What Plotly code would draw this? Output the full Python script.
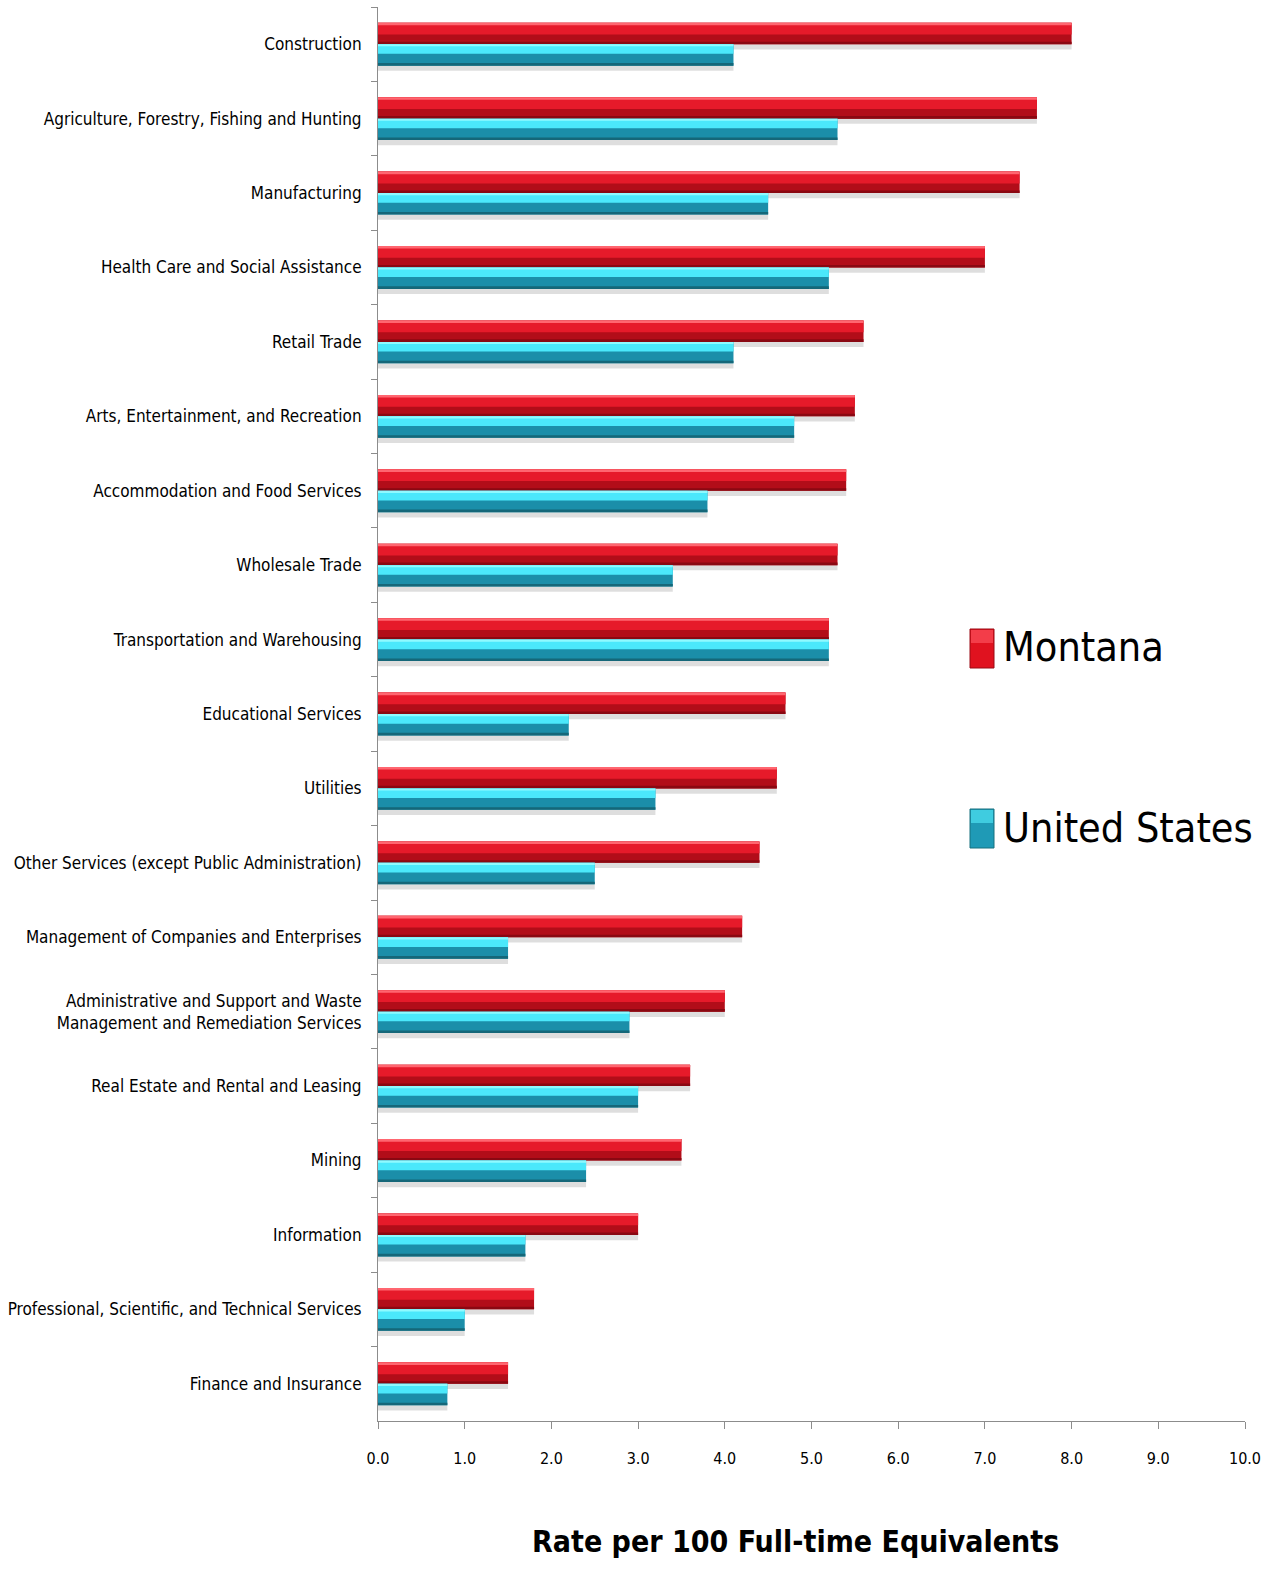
import plotly.graph_objects as go

categories = [
    "Construction",
    "Agriculture, Forestry, Fishing and Hunting",
    "Manufacturing",
    "Health Care and Social Assistance",
    "Retail Trade",
    "Arts, Entertainment, and Recreation",
    "Accommodation and Food Services",
    "Wholesale Trade",
    "Transportation and Warehousing",
    "Educational Services",
    "Utilities",
    "Other Services (except Public Administration)",
    "Management of Companies and Enterprises",
    "Administrative and Support and Waste<br>Management and Remediation Services",
    "Real Estate and Rental and Leasing",
    "Mining",
    "Information",
    "Professional, Scientific, and Technical Services",
    "Finance and Insurance",
]
montana = [8.0, 7.6, 7.4, 7.0, 5.6, 5.5, 5.4, 5.3, 5.2, 4.7, 4.6, 4.4, 4.2, 4.0, 3.6, 3.5, 3.0, 1.8, 1.5]
united_states = [4.1, 5.3, 4.5, 5.2, 4.1, 4.8, 3.8, 3.4, 5.2, 2.2, 3.2, 2.5, 1.5, 2.9, 3.0, 2.4, 1.7, 1.0, 0.8]

series_names = ["Montana", "United States"]
tick_vals = [0, 1, 2, 3, 4, 5, 6, 7, 8, 9, 10]

FONT = "DejaVu Sans Condensed, Liberation Sans Narrow, sans-serif"
BW = 0.288  # bar thickness in category units

# layered "3D" look: (offset within bar from top, thickness, colour)
mt_layers = [
    (0.0, 1.0, "#b20d19"),
    (0.0, 0.55, "#e61a2a"),
    (0.0, 0.12, "#ff6670"),
    (0.88, 0.12, "#8a0812"),
]
us_layers = [
    (0.0, 1.0, "#1b8ea9"),
    (0.0, 0.45, "#4be8fb"),
    (0.0, 0.10, "#8ffaff"),
    (0.88, 0.12, "#156779"),
]

fig = go.Figure()

# soft shadows below bars
fig.add_trace(go.Bar(x=montana, y=categories, orientation="h", offset=0.0, width=0.07,
                     marker=dict(color="rgba(0,0,0,0.13)", line=dict(width=0)),
                     showlegend=False, hoverinfo="skip"))
fig.add_trace(go.Bar(x=united_states, y=categories, orientation="h", offset=BW, width=0.07,
                     marker=dict(color="rgba(0,0,0,0.13)", line=dict(width=0)),
                     showlegend=False, hoverinfo="skip"))

for i, (off, th, col) in enumerate(mt_layers):
    fig.add_trace(go.Bar(x=montana, y=categories, orientation="h",
                         offset=-BW + off * BW, width=th * BW,
                         marker=dict(color=col, line=dict(width=0)),
                         name=series_names[0], showlegend=False,
                         hoverinfo="x+y" if i == 0 else "skip"))
for i, (off, th, col) in enumerate(us_layers):
    fig.add_trace(go.Bar(x=united_states, y=categories, orientation="h",
                         offset=off * BW, width=th * BW,
                         marker=dict(color=col, line=dict(width=0)),
                         name=series_names[1], showlegend=False,
                         hoverinfo="x+y" if i == 0 else "skip"))

L, R, T, B = 378, 35, 7, 151
W, H = 1280, 1572
pw, ph = W - L - R, H - T - B

def px_x(px):
    return (px - L) / pw

def px_y(py):
    return (H - B - py) / ph

shapes = []
annotations = []
legend_items = [
    (series_names[0], 629, 668, "#e0121f", "#ff5a66", "#9a0a14"),
    (series_names[1], 809, 848, "#1f9ab6", "#55eefc", "#16707f"),
]
for name, y0, y1, col, hi, edge in legend_items:
    shapes.append(dict(type="rect", xref="paper", yref="paper",
                       x0=px_x(970), x1=px_x(994), y0=px_y(y1), y1=px_y(y0),
                       fillcolor=col, line=dict(color=edge, width=1)))
    shapes.append(dict(type="rect", xref="paper", yref="paper",
                       x0=px_x(971), x1=px_x(993), y0=px_y(y0 + 14), y1=px_y(y0 + 1),
                       fillcolor=hi, line=dict(width=0), opacity=0.6))
    annotations.append(dict(text=name, xref="paper", yref="paper",
                            x=px_x(1001), y=px_y((y0 + y1) / 2 - 1),
                            xanchor="left", yanchor="middle", showarrow=False,
                            font=dict(family=FONT, size=41, color="#000000")))

annotations.append(dict(text="<b>Rate per 100 Full-time Equivalents</b>", xref="paper", yref="paper",
                        x=px_x(795), y=px_y(1541), xanchor="center", yanchor="middle",
                        showarrow=False, font=dict(family=FONT, size=30, color="#000000")))

fig.update_layout(
    width=W, height=H,
    margin=dict(l=L, r=R, t=T, b=B, pad=0, autoexpand=False),
    barmode="overlay",
    plot_bgcolor="white", paper_bgcolor="white",
    font=dict(family=FONT, color="#000000"),
    shapes=shapes, annotations=annotations,
    showlegend=False,
)
fig.update_xaxes(range=[0, 10], tickvals=tick_vals, tickformat=".1f", automargin=False,
                 showgrid=False, zeroline=False, showline=True, linecolor="#8c8c8c", linewidth=1,
                 ticks="outside", ticklen=7, tickcolor="#8c8c8c",
                 tickfont=dict(family=FONT, size=16, color="#000000"), ticklabelstandoff=16)
fig.update_yaxes(categoryorder="array", categoryarray=categories, autorange="reversed", automargin=False,
                 showgrid=False, zeroline=False, showline=True, linecolor="#8c8c8c", linewidth=1,
                 ticks="outside", ticklen=6, tickcolor="#8c8c8c", tickson="boundaries",
                 tickfont=dict(family=FONT, size=17, color="#000000"), ticklabelstandoff=12)

fig.write_html("out.html", config={"displayModeBar": False},
               post_script="document.body.style.margin='0';")
